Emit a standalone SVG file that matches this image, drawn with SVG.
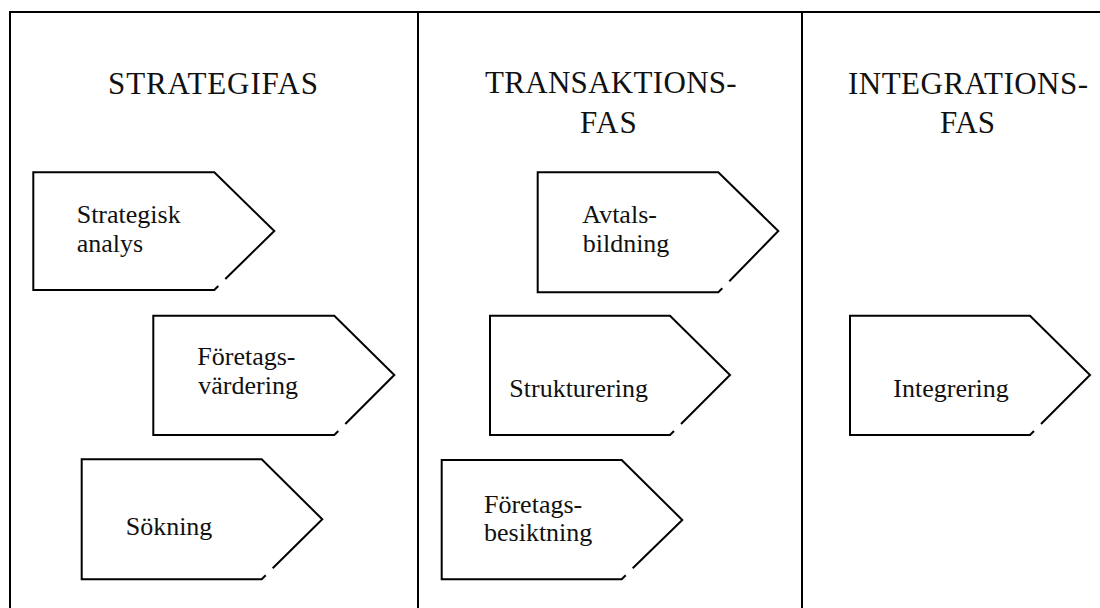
<svg xmlns="http://www.w3.org/2000/svg" width="1100" height="608" viewBox="0 0 1100 608">
<style>
.frame{stroke:#000;stroke-width:2;fill:none}
.box{stroke:#000;stroke-width:2;fill:none;stroke-linejoin:miter}
.t{font-family:"Liberation Serif","Times New Roman",serif;font-size:26px;fill:#111}
.h{font-family:"Liberation Serif","Times New Roman",serif;font-size:31px;fill:#111}
</style>
<rect width="1100" height="608" fill="#fff"/>
<g id="frame">
<line class="frame" x1="9" y1="12" x2="1100" y2="12"/>
<line class="frame" x1="10" y1="12" x2="10" y2="608"/>
<line class="frame" x1="418" y1="12" x2="418" y2="608"/>
<line class="frame" x1="802" y1="12" x2="802" y2="608"/>
</g>
<g id="headings">
<text class="h" x="108" y="94.3" textLength="210" lengthAdjust="spacing">STRATEGIFAS</text>
<text class="h" x="485" y="93.3" textLength="251.7" lengthAdjust="spacing">TRANSAKTIONS-</text>
<text class="h" x="580" y="132.7" textLength="56.7" lengthAdjust="spacing">FAS</text>
<text class="h" x="848" y="93.5" textLength="240" lengthAdjust="spacing">INTEGRATIONS-</text>
<text class="h" x="940" y="132.7" textLength="55" lengthAdjust="spacing">FAS</text>
</g>
<g id="strategisk-analys">
<path class="box" d="M218.3,286 L214.3,290 L33.3,290 L33.3,172.3 L214.3,172.3 L274.3,231 L225.3,279"/>
<text class="t" x="76.7" y="223">Strategisk</text>
<text class="t" x="76.7" y="251.5">analys</text>
</g>
<g id="foretagsvardering">
<path class="box" d="M338.3,431 L334.3,435 L153.3,435 L153.3,315.7 L334.3,315.7 L394.3,375 L345.3,424"/>
<text class="t" x="197.3" y="365">Företags-</text>
<text class="t" x="198.3" y="394">värdering</text>
</g>
<g id="sokning">
<path class="box" d="M265.7,575.3 L261.7,579.3 L81.7,579.3 L81.7,459.3 L261.7,459.3 L322.3,519.3 L272.7,568.3"/>
<text class="t" x="125.7" y="535">Sökning</text>
</g>
<g id="avtalsbildning">
<path class="box" d="M722.3,288.3 L718.3,292.3 L537.7,292.3 L537.7,172.3 L718.3,172.3 L778.3,231 L729.3,281.3"/>
<text class="t" x="582.3" y="223.3">Avtals-</text>
<text class="t" x="582.7" y="251.7">bildning</text>
</g>
<g id="strukturering">
<path class="box" d="M674,431 L670,435 L490,435 L490,315.7 L670,315.7 L730,375 L681,424"/>
<text class="t" x="509.3" y="396.7">Strukturering</text>
</g>
<g id="foretagsbesiktning">
<path class="box" d="M625.7,575.3 L621.7,579.3 L441.7,579.3 L441.7,460 L621.7,460 L682.3,520 L632.7,568.3"/>
<text class="t" x="484" y="513.3">Företags-</text>
<text class="t" x="484" y="540.7">besiktning</text>
</g>
<g id="integrering">
<path class="box" d="M1034,431 L1030,435 L850,435 L850,315.7 L1030,315.7 L1090,375 L1041,424"/>
<text class="t" x="893.3" y="396.7">Integrering</text>
</g>
<g id="connectors"/>
</svg>
